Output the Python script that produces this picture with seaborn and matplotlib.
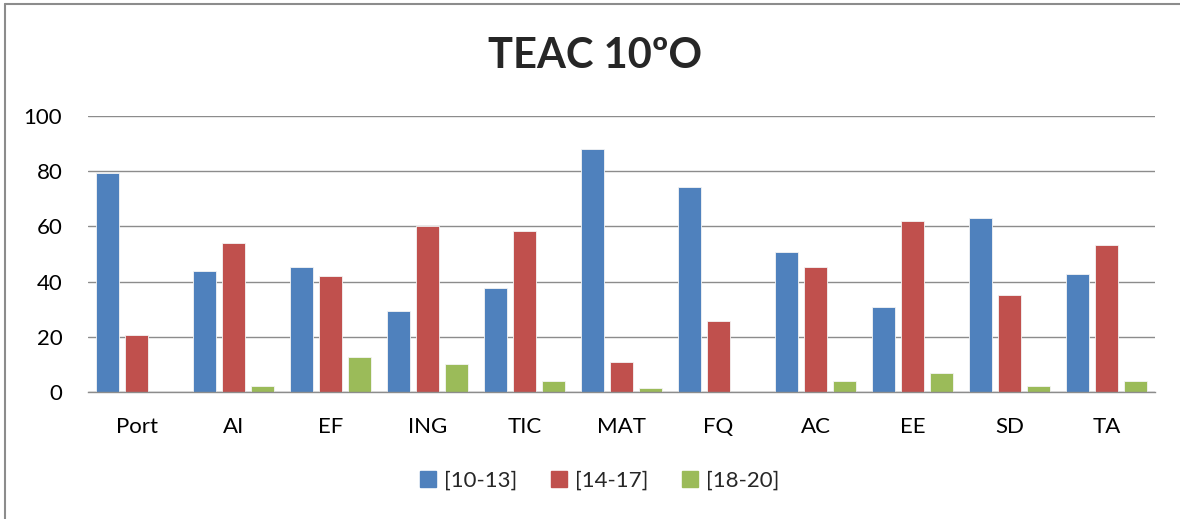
import pandas as pd
import matplotlib
matplotlib.use("Agg")
import matplotlib.pyplot as plt
from matplotlib.lines import Line2D
import seaborn as sns

# data
subjects = ['Port', 'AI', 'EF', 'ING', 'TIC', 'MAT', 'FQ', 'AC', 'EE', 'SD', 'TA']
grades_10_13 = [79.5, 44.0, 45.2, 29.5, 37.6, 87.9, 74.2, 50.6, 30.9, 62.9, 42.6]
grades_14_17 = [20.5, 53.9, 42.0, 60.3, 58.5, 10.9, 25.6, 45.2, 61.8, 35.0, 53.3]
grades_18_20 = [0.0, 2.0, 12.8, 10.3, 3.9, 1.3, 0.0, 4.1, 7.0, 2.0, 4.0]
series_names = ['[10-13]', '[14-17]', '[18-20]']
colors = ['#4F81BD', '#C0504D', '#9BBB59']

df = pd.DataFrame({
    'subject': subjects * 3,
    'value': grades_10_13 + grades_14_17 + grades_18_20,
    'grade': [series_names[0]] * 11 + [series_names[1]] * 11 + [series_names[2]] * 11,
})

sns.set_style("white")
plt.rcParams['font.family'] = ['Lato', 'DejaVu Sans']

fig = plt.figure(figsize=(11.8, 5.19), dpi=100)
ax = fig.add_axes([88 / 1180, 1 - 392 / 519, (1155 - 88) / 1180, (392 - 116) / 519])

sns.barplot(data=df, x='subject', y='value', hue='grade', palette=colors,
            width=0.89, gap=0.2, edgecolor='#f4f4f4', linewidth=0.6,
            saturation=1, ax=ax, legend=False)

ax.set_ylim(0, 100)
ax.set_yticks([0, 20, 40, 60, 80, 100])
ax.set_xlim(-0.5, len(subjects) - 0.5)
ax.set_xlabel('')
ax.set_ylabel('')

# gridlines
ax.set_axisbelow(True)
ax.yaxis.grid(True, color='#8c8c8c', linewidth=1.0)
for side in ['top', 'right', 'left']:
    ax.spines[side].set_visible(False)
ax.spines['bottom'].set_color('#8c8c8c')
ax.spines['bottom'].set_linewidth(1.0)

ax.tick_params(axis='y', length=0, pad=18.5, labelsize=16, labelcolor='black')
ax.tick_params(axis='x', length=0, pad=18, labelsize=16, labelcolor='black')

fig.text(0.504, 0.892, 'TEAC 10ºO', ha='center', va='center',
         fontsize=30, fontweight='bold')

# legend at the bottom
handles = [Line2D([0], [0], marker='s', linestyle='', markersize=11,
                  markerfacecolor=c, markeredgecolor=c) for c in colors]
fig.legend(handles, series_names, loc='center', bbox_to_anchor=(0.507, 0.073),
           ncol=3, frameon=False, fontsize=16, handletextpad=0.2,
           columnspacing=1.4, handlelength=1.0)

# outer chart frame (left and top edges visible)
fig.add_artist(Line2D([5 / 1180, 5 / 1180], [0, 1 - 4 / 519], transform=fig.transFigure,
                      color='#8c8c8c', linewidth=1.5))
fig.add_artist(Line2D([5 / 1180, 1], [1 - 4 / 519, 1 - 4 / 519], transform=fig.transFigure,
                      color='#8c8c8c', linewidth=1.5))

fig.savefig('out.png', dpi=100)
